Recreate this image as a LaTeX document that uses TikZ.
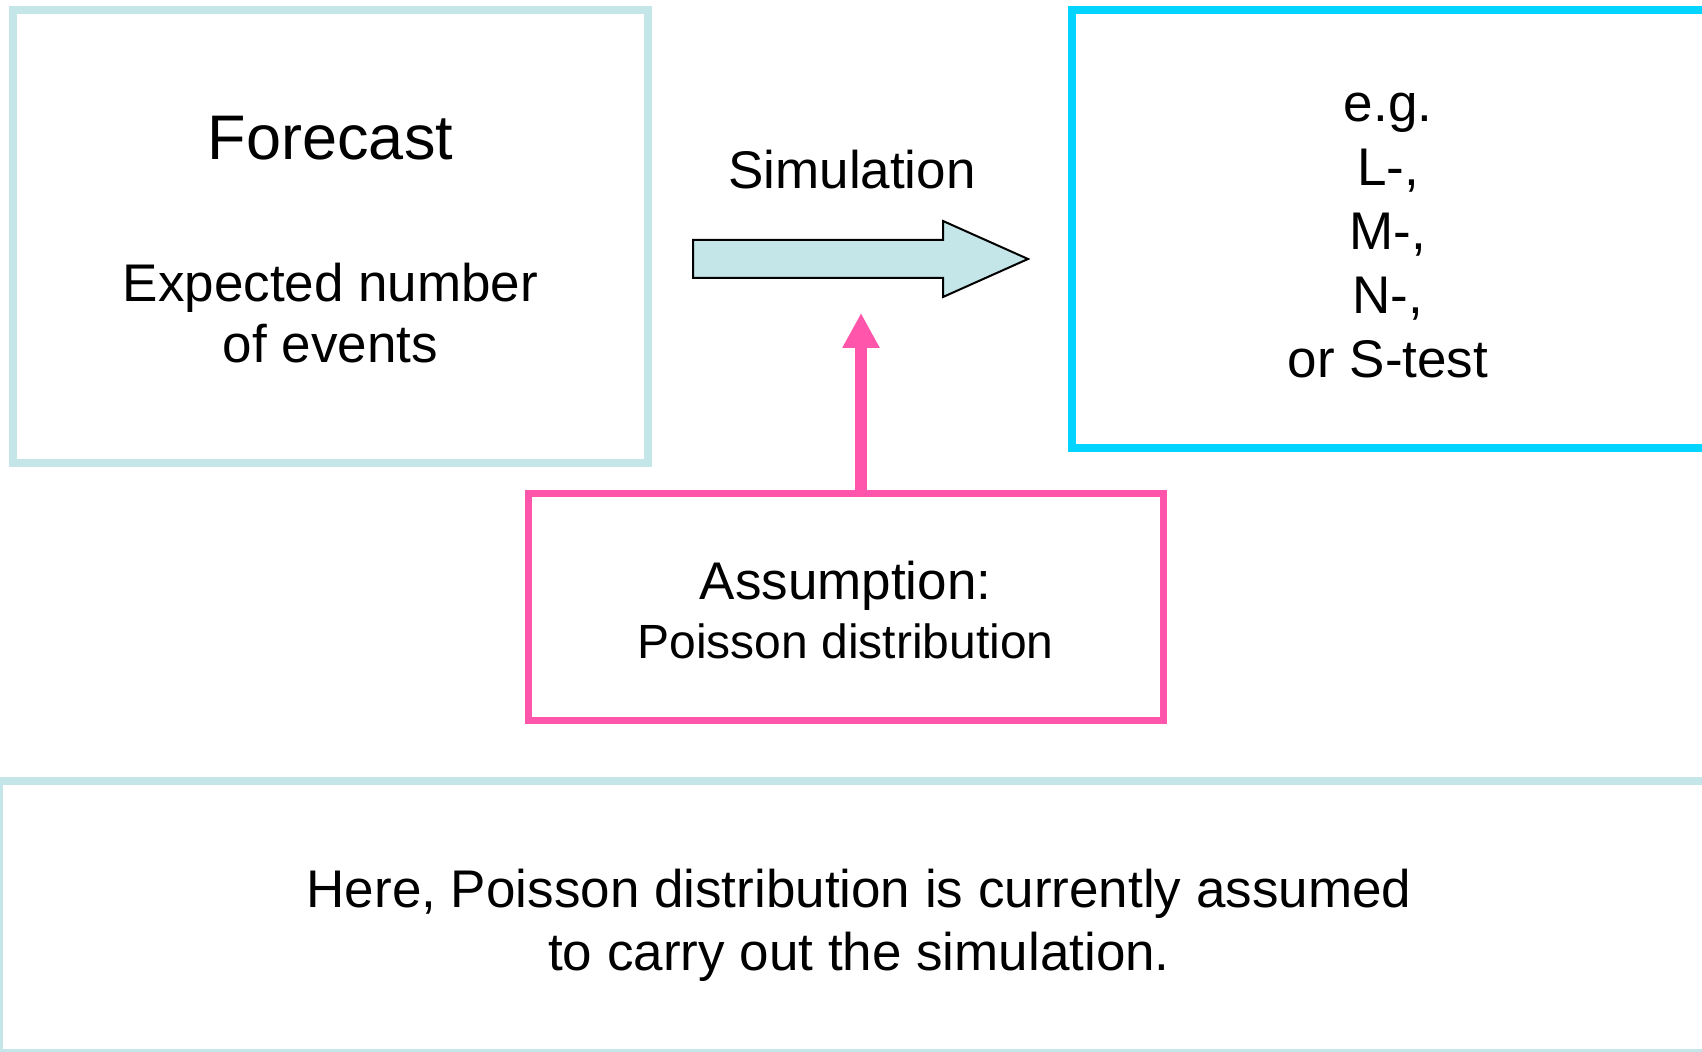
\documentclass[tikz,border=0pt]{standalone}
\usepackage{fontspec}
\setmainfont{Liberation Sans}
\usetikzlibrary{arrows.meta}
\definecolor{paleblue}{RGB}{196,230,232}
\definecolor{brightcyan}{RGB}{0,212,255}
\definecolor{hotpink}{RGB}{255,85,170}

\begin{document}
\begin{tikzpicture}[x=0.5pt,y=0.5pt,yscale=-1,xscale=1,
  panel/.style={draw=#1, line width=3.8pt, inner sep=0pt},
  txt/.style={anchor=base, inner sep=0pt, align=center, font=\fontsize{26.5pt}{32pt}\selectfont}]
\useasboundingbox (0,0) rectangle (1702,1052);

%Shape: Rectangle [forecast]
\node [panel=paleblue, minimum width=317.5pt, minimum height=226.5pt] (forecast) at (330.5,236.5) {};
%Shape: Rectangle [tests]
\node [panel=brightcyan, minimum width=334pt, minimum height=219pt] (tests) at (1406,229) {};
%Shape: Rectangle [assump]
\node [panel=hotpink, line width=3.5pt, minimum width=317.5pt, minimum height=113.5pt] (assump) at (845.5,607.5) {};
%Shape: Rectangle [note]
\node [panel=paleblue, minimum width=880.5pt, minimum height=136pt] (note) at (879.5,917) {};

%Shape: Right Arrow
\draw [fill=paleblue, line width=1pt, line join=miter] (693,240) -- (943,240) -- (943,221) -- (1028,259) -- (943,297) -- (943,278) -- (693,278) -- cycle ;

%Straight Lines [pink arrow]
\coordinate (tip) at (861,313);
\draw [hotpink, line width=6pt, -{Triangle[length=17.5pt,width=17.5pt]}] (assump.north -| tip) -- (tip) ;

% Text Node (multi-line nodes sit on their last baseline)
\node [txt, font=\fontsize{31.5pt}{36pt}\selectfont] (fctitle) at (330.5,160) {Forecast};
% Text Node
\node [txt, font=\fontsize{26.5pt}{30.5pt}\selectfont] (fcbody) at (330.5,363) {Expected number\\of events};
% Text Node
\node [txt] (simlabel) at (852,189) {Simulation};
% Text Node
\node [txt] (testlist) at (1388,378) {e.g.\\L-,\\M-,\\N-,\\or S-test};
% Text Node
\node [txt] (assumhead) at (845.5,600) {Assumption:};
% Text Node
\node [txt, font=\fontsize{24pt}{29pt}\selectfont] (assumbody) at (845.5,659) {Poisson distribution};
% Text Node
\node [txt, font=\fontsize{26.5pt}{31.5pt}\selectfont] (notetext) at (859,970) {Here, Poisson distribution is currently assumed\\to carry out the simulation.};

\end{tikzpicture}
\end{document}
